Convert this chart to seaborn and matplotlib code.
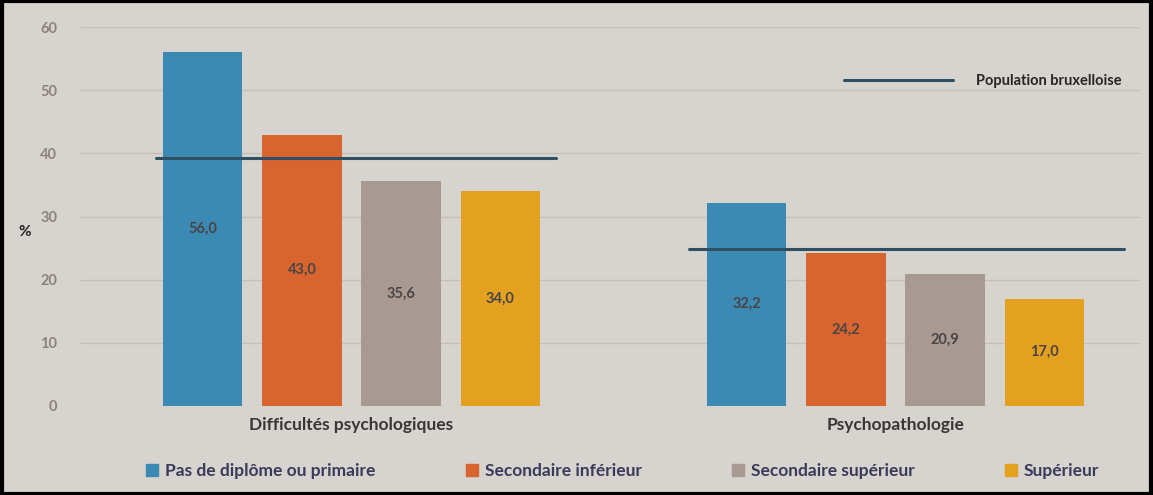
import matplotlib
matplotlib.use("Agg")
import matplotlib.pyplot as plt
import matplotlib.patches as mpatches
from matplotlib.lines import Line2D
import seaborn as sns
import pandas as pd

groups = ["Difficultés psychologiques", "Psychopathologie"]
levels = ["Pas de diplôme ou primaire", "Secondaire inférieur",
          "Secondaire supérieur", "Supérieur"]
difficultes = [56.0, 43.0, 35.6, 34.0]
psychopatho = [32.2, 24.2, 20.9, 17.0]
population = [39.2, 24.8]
colors = ["#3a8ab3", "#d8652f", "#a89a92", "#e3a11f"]

rows = []
for g, vals in zip(groups, [difficultes, psychopatho]):
    for lvl, v in zip(levels, vals):
        rows.append({"groupe": g, "niveau": lvl, "valeur": v})
df = pd.DataFrame(rows)

sns.set_theme(style="white")
plt.rcParams["font.family"] = ["Lato", "DejaVu Sans"]

bg = "#d7d3ce"
fig = plt.figure(figsize=(11.53, 4.95), dpi=100, facecolor=bg)
ax = fig.add_axes([0.069, 0.18, 0.92, 0.765])
ax.set_facecolor(bg)

sns.barplot(data=df, x="groupe", y="valeur", hue="niveau", order=groups,
            hue_order=levels, palette=colors, width=0.73, gap=0.2,
            saturation=1, legend=False, ax=ax, linewidth=0, edgecolor="none")

for cont in ax.containers:
    labels = [f"{b.get_height():.1f}".replace(".", ",") for b in cont]
    for b, lab in zip(cont, labels):
        ax.text(b.get_x() + b.get_width() / 2, b.get_height() / 2, lab,
                ha="center", va="center", fontsize=10.5, fontweight="bold",
                color="#4a4444")

# reference lines (Population bruxelloise)
line_col = "#2f4f63"
spans = [(-0.36, 0.375), (-0.38, 0.42)]
for i, (pv, (a, b)) in enumerate(zip(population, spans)):
    ax.plot([i + a, i + b], [pv, pv], color=line_col, lw=2.2, zorder=5)

ax.set_ylim(0, 60)
ax.set_xlim(-0.5, 1.45)
ax.set_yticks(range(0, 61, 10))
ax.yaxis.grid(True, color="#c6bfb9", lw=1)
ax.set_axisbelow(True)
for s in ax.spines.values():
    s.set_visible(False)
ax.tick_params(axis="y", length=0, labelsize=10.5, labelcolor="#8a827d", pad=16)
for t in ax.get_yticklabels():
    t.set_fontweight("bold")
ax.tick_params(axis="x", length=0, labelsize=12.5, labelcolor="#3a3636", pad=8)
for t in ax.get_xticklabels():
    t.set_fontweight("bold")
ax.set_xlabel("")
ax.set_ylabel("%", rotation=0, fontsize=11, fontweight="bold", color="#222222",
              labelpad=18)
ax.yaxis.set_label_coords(-0.052, 0.44)

ax.legend(handles=[Line2D([0], [0], color=line_col, lw=2.2)],
          labels=["Population bruxelloise"], loc="upper right",
          bbox_to_anchor=(0.995, 0.91), frameon=False,
          handlelength=7.5, handletextpad=1.6,
          prop={"weight": "bold", "size": 10.5})

handles = [mpatches.Patch(color=c) for c in colors]
fig.legend(handles, levels, loc="lower center", ncol=4,
           bbox_to_anchor=(0.54, 0.0), frameon=False,
           prop={"weight": "bold", "size": 12.5}, labelcolor="#3a3a5a",
           handlelength=0.7, handleheight=0.7, handletextpad=0.4,
           columnspacing=5.2)

fig.patches.append(mpatches.Rectangle((0.002, 0.003), 0.996, 0.994,
                                      transform=fig.transFigure, fill=False,
                                      edgecolor="black", lw=3))

fig.savefig("out.png", dpi=100, facecolor=bg)
